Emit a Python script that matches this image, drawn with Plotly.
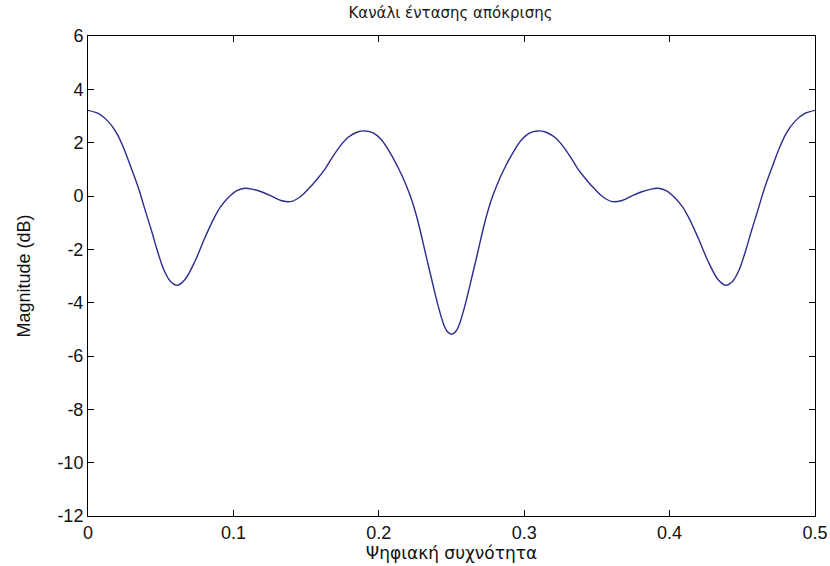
import plotly.graph_objects as go

# Magnitude response of the channel, sampled over digital frequency 0..0.5
freq = [0.0, 0.0073, 0.0142, 0.0199, 0.0245, 0.0302, 0.0348, 0.0394, 0.044, 0.0474,
        0.052, 0.0566, 0.0612, 0.0669, 0.0738, 0.0795, 0.0841, 0.0864, 0.091, 0.0967,
        0.1024, 0.1081, 0.1127, 0.1196, 0.1265, 0.1334, 0.1402, 0.146, 0.1517, 0.1574,
        0.1631, 0.1677, 0.1735, 0.1792, 0.1849, 0.1906, 0.1964, 0.2021, 0.2078, 0.2136,
        0.2181, 0.2227, 0.2273, 0.2319, 0.2365, 0.241, 0.2445, 0.2468, 0.25,
        0.2532, 0.2555, 0.259, 0.2635, 0.2681, 0.2727, 0.2773, 0.2819, 0.2864, 0.2922,
        0.2979, 0.3036, 0.3094, 0.3151, 0.3208, 0.3265, 0.3323, 0.3369, 0.3426, 0.3483,
        0.354, 0.3598, 0.3666, 0.3735, 0.3804, 0.3873, 0.3919, 0.3976, 0.4033, 0.409,
        0.4136, 0.4159, 0.4205, 0.4262, 0.4331, 0.4388, 0.4434, 0.448, 0.4526, 0.456,
        0.4606, 0.4652, 0.4698, 0.4755, 0.4801, 0.4858, 0.4927, 0.5]
mag_db = [3.21, 3.09, 2.78, 2.34, 1.8, 0.98, 0.28, -0.55, -1.36, -2.0,
          -2.75, -3.2, -3.35, -3.12, -2.42, -1.68, -1.12, -0.86, -0.42, -0.05,
          0.2, 0.29, 0.26, 0.15, -0.01, -0.18, -0.2, -0.03, 0.27, 0.62,
          1.02, 1.42, 1.88, 2.21, 2.39, 2.44, 2.36, 2.09, 1.62, 1.03,
          0.5, -0.16, -1.03, -2.1, -3.16, -4.16, -4.8, -5.06, -5.18,
          -5.06, -4.8, -4.16, -3.16, -2.1, -1.03, -0.16, 0.5, 1.03, 1.62,
          2.09, 2.36, 2.44, 2.39, 2.21, 1.88, 1.42, 1.02, 0.62, 0.27,
          -0.03, -0.2, -0.18, -0.01, 0.15, 0.26, 0.29, 0.2, -0.05, -0.42,
          -0.86, -1.12, -1.68, -2.42, -3.12, -3.35, -3.2, -2.75, -2.0, -1.36,
          -0.55, 0.28, 0.98, 1.8, 2.34, 2.78, 3.09, 3.21]

x_ticks = [0, 0.1, 0.2, 0.3, 0.4, 0.5]
x_tick_text = ["0", "0.1", "0.2", "0.3", "0.4", "0.5"]
y_ticks = [-12, -10, -8, -6, -4, -2, 0, 2, 4, 6]
y_tick_text = ["-12", "-10", "-8", "-6", "-4", "-2", "0", "2", "4", "6"]

title_text = "Κανάλι έντασης απόκρισης"
x_label = "Ψηφιακή συχνότητα"
y_label = "Magnitude (dB)"

fig = go.Figure()
fig.add_trace(go.Scatter(
    x=freq, y=mag_db, mode="lines",
    line=dict(color="#2c2c8c", width=1.4, shape="spline", smoothing=0.8),
    showlegend=False, hoverinfo="skip",
))

tick_font = dict(family="Liberation Sans, Arial", size=18, color="#111111")
axis_common = dict(
    showline=True, linecolor="black", linewidth=1, mirror="ticks",
    ticks="inside", ticklen=6, tickcolor="black", tickwidth=1,
    showgrid=False, zeroline=False, automargin=False,
    tickfont=tick_font,
)

fig.update_layout(
    width=830, height=566,
    margin=dict(l=88, r=15, t=36, b=50),
    paper_bgcolor="white", plot_bgcolor="white",
    title=dict(text=title_text, x=0.5427, xanchor="center", y=0.977, yanchor="middle",
               font=dict(family="DejaVu Sans, Noto Sans", size=15, color="#1a1a1a")),
    xaxis=dict(range=[0, 0.5], tickvals=x_ticks, ticktext=x_tick_text,
               title=dict(text=x_label, standoff=0,
                          font=dict(family="DejaVu Sans, Noto Sans", size=17, color="#111111")),
               **axis_common),
    yaxis=dict(range=[-12, 6], tickvals=y_ticks, ticktext=y_tick_text,
               title=dict(text=y_label, standoff=22,
                          font=dict(family="Liberation Sans, Arial", size=18, color="#111111")),
               **axis_common),
)

fig.write_html("out.html")
